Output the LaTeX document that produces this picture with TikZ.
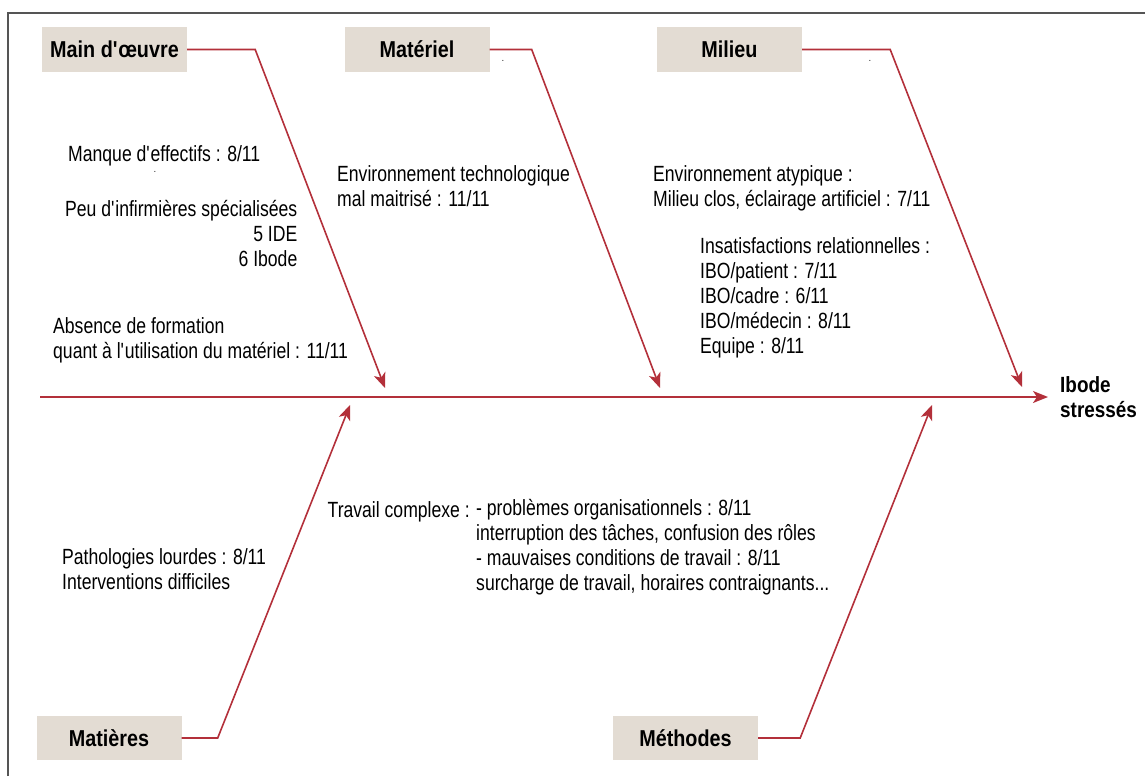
\documentclass[tikz,border=0pt]{standalone}
\usepackage{fontspec}
\setmainfont{Liberation Sans}[FakeStretch=0.8]
\newfontfamily\catfont{Liberation Sans}[FakeStretch=0.86]
\usetikzlibrary{arrows.meta}
\definecolor{fishred}{HTML}{B3303A}
\definecolor{catfill}{HTML}{E3DCD3}
\definecolor{framegray}{HTML}{555555}
\newcommand{\q}{\textquotesingle}
\tikzset{
  cat/.style={fill=catfill, minimum width=145pt, minimum height=45pt, inner sep=0pt, font=\catfont\fontsize{23}{25}\selectfont\bfseries},
  cause/.style={inner sep=0pt, align=left, anchor=base west, font=\fontsize{22}{25}\selectfont},
  effect/.style={cause, font=\catfont\fontsize{22}{25}\selectfont\bfseries},
  speck/.style={inner sep=0pt, font=\fontsize{10}{10}\selectfont},
  arr/.style={-{Stealth[length=15pt,width=12pt,inset=4pt]}, color=fishred, line width=1.6pt}}

\begin{document}
\begin{tikzpicture}[x=1pt,y=-1pt]
  \useasboundingbox (0,0) rectangle (1145,776);
  % frame
  \draw[framegray, line width=2pt] (8,776) -- (8,13) -- (1145,13);
  % categories
  \node[cat] (mo) at (114.5,49.5) {Main d\q œuvre};
  \node[cat] (mat) at (417,49.5) {Matériel};
  \node[cat] (mil) at (729.5,49.5) {Milieu};
  \node[cat, minimum height=44pt] (mati) at (109,738) {Matières};
  \node[cat, minimum height=44pt] (meth) at (685.5,738) {Méthodes};
  % arrow tips on the spine
  \coordinate (tipMO) at (385,388);
  \coordinate (tipMat) at (660,388);
  \coordinate (tipMil) at (1022,387);
  \coordinate (tipMati) at (350,405);
  \coordinate (tipMeth) at (932,405);
  % spine
  \coordinate (spineL) at (40,397);
  \coordinate (spineR) at (1048,397);
  \node[effect] (ibode) at (1060,417) {Ibode\\stressés};
  \draw[arr] (spineL) -- (spineR);
  % bones
  \draw[arr] (mo.east) -- ++(68,0) -- (tipMO);
  \draw[arr] (mat.east) -- ++(42,0) -- (tipMat);
  \draw[arr] (mil.east) -- ++(88,0) -- (tipMil);
  \draw[arr] (mati.east) -- ++(36,0) -- (tipMati);
  \draw[arr] (meth.east) -- ++(42,0) -- (tipMeth);
  % causes (multi-line nodes sit on their last baseline)
  \node[cause] (effectifs) at (68,161) {Manque d\q effectifs : 8/11};
  \node[cause, align=right] (infirm) at (65,266) {Peu d\q infirmières spécialisées\\5 IDE\\6 Ibode};
  \node[cause] (formation) at (53,358) {Absence de formation\\quant à l\q utilisation du matériel : 11/11};
  \node[cause] (techno) at (337,206) {Environnement technologique\\mal maitrisé : 11/11};
  \node[cause] (atyp) at (653,206) {Environnement atypique :\\Milieu clos, éclairage artificiel : 7/11};
  \node[cause] (relat) at (700,353) {Insatisfactions relationnelles :\\IBO/patient : 7/11\\IBO/cadre : 6/11\\IBO/médecin : 8/11\\Equipe : 8/11};
  \node[cause] (patho) at (62,589) {Pathologies lourdes : 8/11\\Interventions difficiles};
  \node[cause, anchor=base east] (travail) at (470,517) {Travail complexe :};
  \node[cause] (orga) at (476,590) {- problèmes organisationnels : 8/11\\interruption des tâches, confusion des rôles\\- mauvaises conditions de travail : 8/11\\surcharge de travail, horaires contraignants...};
  % stray specks
  \node[speck] (speckA) at (155,172) {.};
  \node[speck] (speckB) at (503,61) {.};
  \node[speck] (speckC) at (870,61) {.};
\end{tikzpicture}
\end{document}
